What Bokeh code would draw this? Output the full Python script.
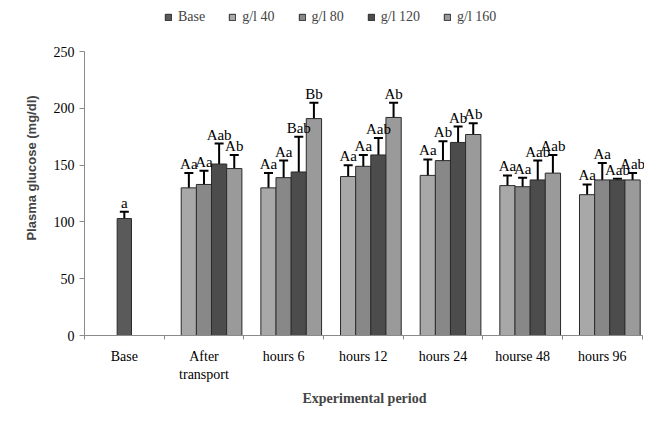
import numpy as np
from bokeh.plotting import figure
from bokeh.models import (ColumnDataSource, Whisker, TeeHead, FixedTicker, Legend, LegendItem)
from bokeh.core.properties import value
from bokeh.embed import file_html
from bokeh.resources import INLINE

categories = ["Base", "After\ntransport", "hours 6", "hours 12", "hours 24", "hourse 48", "hours 96"]
series = ["Base", "g/l 40", "g/l 80", "g/l 120", "g/l 160"]

base_mean = [103]
base_err = [6]
base_lab = ["a"]

g40_mean = [130, 130, 140, 141, 132, 124]
g40_err = [13, 13, 10, 14, 9, 9]
g40_lab = ["Aa", "Aa", "Aa", "Aa", "Aa", "Aa"]

g80_mean = [133, 139, 149, 154, 131, 137]
g80_err = [12, 15, 10, 17, 8, 15]
g80_lab = ["Aa", "Aa", "Aa", "Ab", "Aa", "Aa"]

g120_mean = [151, 144, 159, 170, 137, 137]
g120_err = [18, 31, 15, 14, 17, 1]
g120_lab = ["Aab", "Bab", "Aab", "Ab", "Aab", "Aab"]

g160_mean = [147, 191, 192, 177, 143, 137]
g160_err = [12, 14, 13, 10, 16, 6]
g160_lab = ["Ab", "Bb", "Ab", "Ab", "Aab", "Aab"]

y_ticks = [0, 50, 100, 150, 200, 250]

colors = {"Base": "#5a5a5a", "g/l 40": "#a8a8a8", "g/l 80": "#888888",
          "g/l 120": "#4c4c4c", "g/l 160": "#9a9a9a"}

SERIF = "Liberation Serif"

# frame extends above 250 (legend room) and slightly right of the last category;
# the axes themselves stop at 250 and at the last category boundary
p = figure(width=644, height=408, x_range=(0, 7.03), y_range=(0, 295),
           output_backend="svg", toolbar_location=None,
           min_border_left=84, min_border_right=0, min_border_top=0, min_border_bottom=72)
p.outline_line_color = None
p.grid.visible = False
p.background_fill_color = "white"

bw = 0.192
slot_off = {"g/l 40": -0.19, "g/l 80": 0.0, "g/l 120": 0.19, "g/l 160": 0.38}

renderers = {}
bsrc = ColumnDataSource(dict(x=[0.5], top=base_mean,
                             upper=[m + e for m, e in zip(base_mean, base_err)],
                             lower=[m - e for m, e in zip(base_mean, base_err)],
                             lab=base_lab))
renderers["Base"] = p.vbar(x="x", top="top", width=0.18, source=bsrc, fill_color=colors["Base"],
                           line_color="#2a2a2a", line_width=1)
srcs = [bsrc]

data = {"g/l 40": (g40_mean, g40_err, g40_lab), "g/l 80": (g80_mean, g80_err, g80_lab),
        "g/l 120": (g120_mean, g120_err, g120_lab), "g/l 160": (g160_mean, g160_err, g160_lab)}
for name, (m, e, lab) in data.items():
    xs = [i + 1 + 0.5 + slot_off[name] for i in range(len(m))]
    src = ColumnDataSource(dict(x=xs, top=m,
                                upper=[a + b for a, b in zip(m, e)],
                                lower=[a - b for a, b in zip(m, e)],
                                lab=lab))
    renderers[name] = p.vbar(x="x", top="top", width=bw, source=src, fill_color=colors[name],
                             line_color="#2a2a2a", line_width=1)
    srcs.append(src)

for src in srcs:
    w = Whisker(source=src, base="x", upper="upper", lower="lower", line_width=2, line_color="black",
                upper_head=TeeHead(size=9, line_width=2, line_color="black"),
                lower_head=TeeHead(size=9, line_width=2, line_color="black"))
    p.add_layout(w)
    p.text(x="x", y="upper", text="lab", source=src, text_align="center", text_baseline="bottom",
           y_offset=-1, text_font=value(SERIF), text_font_size="15px", text_color="black")

p.yaxis.ticker = FixedTicker(ticks=y_ticks)
p.yaxis.bounds = (0, 250)
p.yaxis.minor_tick_line_color = None
p.yaxis.major_tick_in = 0
p.yaxis.major_tick_out = 5
p.yaxis.axis_line_color = "#8a8a8a"
p.yaxis.major_tick_line_color = "#8a8a8a"
p.yaxis.major_label_text_font = SERIF
p.yaxis.major_label_text_font_size = "14px"
p.yaxis.major_label_text_color = "black"
p.yaxis.axis_label = "Plasma glucose (mg/dl)"
p.yaxis.axis_label_text_font = "Liberation Sans"
p.yaxis.axis_label_text_font_style = "bold"
p.yaxis.axis_label_text_font_size = "13px"
p.yaxis.axis_label_standoff = 12

p.xaxis.ticker = FixedTicker(ticks=[i + 0.5 for i in range(len(categories))],
                             minor_ticks=list(range(len(categories) + 1)))
p.xaxis.bounds = (0, 7)
p.xaxis.major_label_overrides = {i + 0.5: c for i, c in enumerate(categories)}
p.xaxis.major_tick_line_color = None
p.xaxis.minor_tick_in = 0
p.xaxis.minor_tick_out = 4
p.xaxis.minor_tick_line_color = "#8a8a8a"
p.xaxis.axis_line_color = "#8a8a8a"
p.xaxis.major_label_text_font = SERIF
p.xaxis.major_label_text_font_size = "14px"
p.xaxis.major_label_text_color = "black"
p.xaxis.major_label_standoff = 7
p.xaxis.axis_label = "Experimental period"
p.xaxis.axis_label_text_font = SERIF
p.xaxis.axis_label_text_font_style = "bold"
p.xaxis.axis_label_text_font_size = "14px"
p.xaxis.axis_label_standoff = 6

legend = Legend(items=[LegendItem(label=s, renderers=[renderers[s]]) for s in series],
                orientation="horizontal", location=(80, 310),
                glyph_width=8, glyph_height=8, label_standoff=6, spacing=23,
                label_text_font=SERIF, label_text_font_size="14px",
                border_line_color=None, background_fill_alpha=0, padding=4, margin=0)
p.add_layout(legend, "center")

open("out.html", "w").write(file_html(p, INLINE))
